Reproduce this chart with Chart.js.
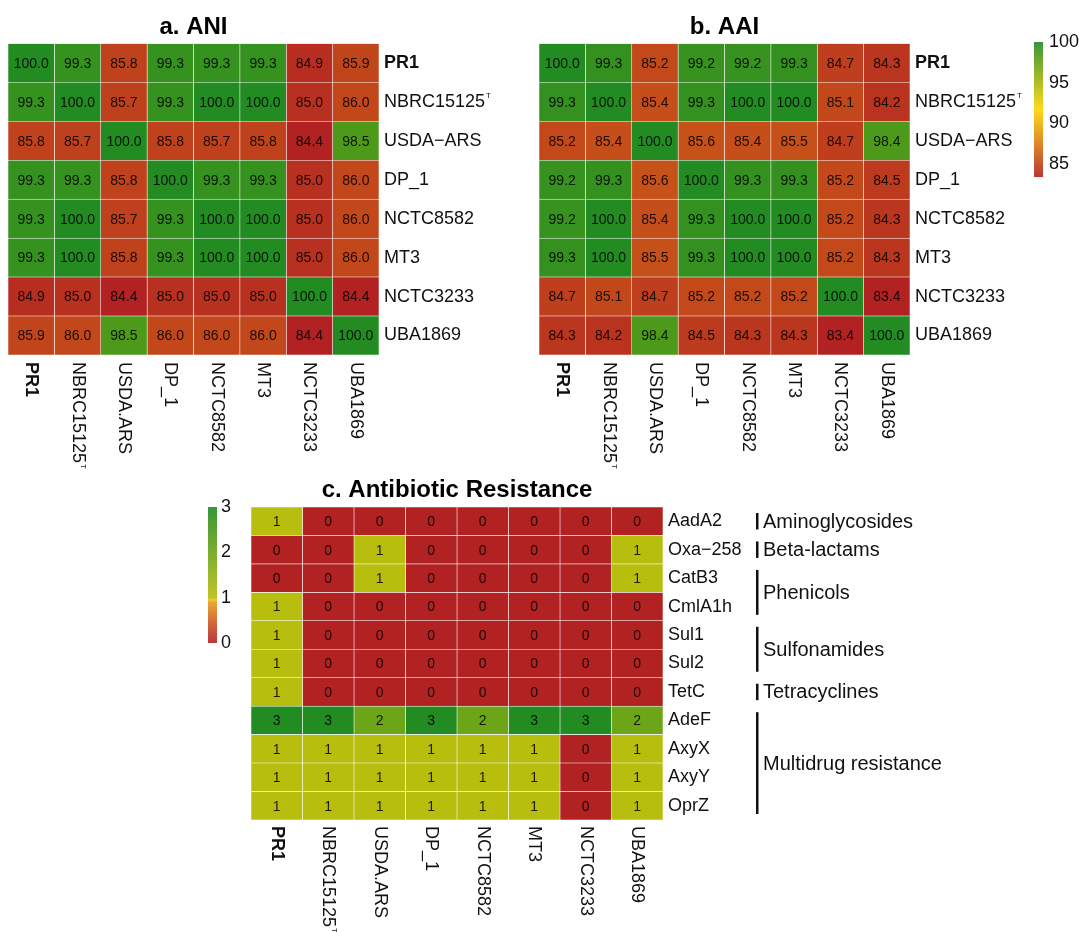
<!DOCTYPE html>
<html>
<head>
<meta charset="utf-8">
<script src="https://cdn.jsdelivr.net/npm/chart.js@4.4.0/dist/chart.umd.min.js"></script>
<style>
  html, body { margin: 0; padding: 0; background: #fff; }
  #wrap { position: relative; width: 1079px; height: 932px; overflow: hidden; background: #fff; }
  canvas { position: absolute; }
</style>
</head>
<body>
<div id="wrap">
  <canvas id="ani" width="540" height="470" style="left:0px;top:0px"></canvas>
  <canvas id="aai" width="549" height="470" style="left:530px;top:0px"></canvas>
  <canvas id="amr" width="884" height="472" style="left:195px;top:460px"></canvas>
</div>
<script>
// ---- data ----
const strainRows = ["PR1", "NBRC15125ᵀ", "USDA−ARS", "DP_1", "NCTC8582", "MT3", "NCTC3233", "UBA1869"];
const strainCols = ["PR1", "NBRC15125ᵀ", "USDA.ARS", "DP_1", "NCTC8582", "MT3", "NCTC3233", "UBA1869"];

const aniValues = [
  [100.0, 99.3, 85.8, 99.3, 99.3, 99.3, 84.9, 85.9],
  [99.3, 100.0, 85.7, 99.3, 100.0, 100.0, 85.0, 86.0],
  [85.8, 85.7, 100.0, 85.8, 85.7, 85.8, 84.4, 98.5],
  [99.3, 99.3, 85.8, 100.0, 99.3, 99.3, 85.0, 86.0],
  [99.3, 100.0, 85.7, 99.3, 100.0, 100.0, 85.0, 86.0],
  [99.3, 100.0, 85.8, 99.3, 100.0, 100.0, 85.0, 86.0],
  [84.9, 85.0, 84.4, 85.0, 85.0, 85.0, 100.0, 84.4],
  [85.9, 86.0, 98.5, 86.0, 86.0, 86.0, 84.4, 100.0]
];

const aaiValues = [
  [100.0, 99.3, 85.2, 99.2, 99.2, 99.3, 84.7, 84.3],
  [99.3, 100.0, 85.4, 99.3, 100.0, 100.0, 85.1, 84.2],
  [85.2, 85.4, 100.0, 85.6, 85.4, 85.5, 84.7, 98.4],
  [99.2, 99.3, 85.6, 100.0, 99.3, 99.3, 85.2, 84.5],
  [99.2, 100.0, 85.4, 99.3, 100.0, 100.0, 85.2, 84.3],
  [99.3, 100.0, 85.5, 99.3, 100.0, 100.0, 85.2, 84.3],
  [84.7, 85.1, 84.7, 85.2, 85.2, 85.2, 100.0, 83.4],
  [84.3, 84.2, 98.4, 84.5, 84.3, 84.3, 83.4, 100.0]
];
const aaiTicks = [100, 95, 90, 85];

const genes = ["AadA2", "Oxa−258", "CatB3", "CmlA1h", "Sul1", "Sul2", "TetC", "AdeF", "AxyX", "AxyY", "OprZ"];
const geneCounts = [
  [1, 0, 0, 0, 0, 0, 0, 0],
  [0, 0, 1, 0, 0, 0, 0, 1],
  [0, 0, 1, 0, 0, 0, 0, 1],
  [1, 0, 0, 0, 0, 0, 0, 0],
  [1, 0, 0, 0, 0, 0, 0, 0],
  [1, 0, 0, 0, 0, 0, 0, 0],
  [1, 0, 0, 0, 0, 0, 0, 0],
  [3, 3, 2, 3, 2, 3, 3, 2],
  [1, 1, 1, 1, 1, 1, 0, 1],
  [1, 1, 1, 1, 1, 1, 0, 1],
  [1, 1, 1, 1, 1, 1, 0, 1]
];
const countTicks = [3, 2, 1, 0];
const drugClasses = ["Aminoglycosides", "Beta-lactams", "Phenicols", "Sulfonamides", "Tetracyclines", "Multidrug resistance"];
const classFirstGene = [0, 1, 2, 4, 6, 7];
const classLastGene = [0, 1, 3, 5, 6, 10];

// ---- colour scales ----
const FONT = '"Liberation Sans", Arial, Helvetica, sans-serif';
const RED = [178, 34, 34], GOLD = [255, 215, 0], GREEN = [34, 139, 34];
const SUP = 'ᵀ';

function rgb(c) { return `rgb(${c[0]},${c[1]},${c[2]})`; }
function ramp(stops, v) {
  if (v <= stops[0][0]) return rgb(stops[0][1]);
  for (let i = 1; i < stops.length; i++) {
    if (v <= stops[i][0]) {
      const t = (v - stops[i - 1][0]) / (stops[i][0] - stops[i - 1][0]);
      const a = stops[i - 1][1], b = stops[i][1];
      return rgb(a.map((x, k) => Math.round(x + (b[k] - x) * t)));
    }
  }
  return rgb(stops[stops.length - 1][1]);
}
function identityScale(values) {
  const flat = values.flat();
  const lo = Math.min(...flat), hi = Math.max(...flat);
  const stops = [[lo, RED], [(lo + hi) / 2, GOLD], [hi, GREEN]];
  return { lo, hi, colour: v => ramp(stops, v) };
}
const countStops = [
  [0, RED], [0.5, [208, 96, 40]], [0.92, [236, 160, 28]], [0.97, [250, 212, 40]],
  [1, [184, 190, 14]], [3, GREEN]
];
const countScale = { lo: 0, hi: 3, colour: v => ramp(countStops, v) };

// label text without the type-strain mark, plus whether it carries one
function splitMark(label) {
  return label.endsWith(SUP) ? [label.slice(0, -1), true] : [label, false];
}

// ---- heatmap built from floating horizontal bars ----
function heatmap(canvasId, cfg) {
  const nCols = cfg.cols.length;
  const datasets = cfg.cols.map((col, c) => ({
    label: col,
    data: cfg.rows.map(() => [c, c + 1]),
    backgroundColor: cfg.rows.map((_, r) => cfg.scale.colour(cfg.values[r][c])),
    borderColor: 'rgba(255,255,255,0.7)',
    borderWidth: 0.6,
    borderSkipped: false,
    grouped: false,
    barPercentage: 1,
    categoryPercentage: 1
  }));

  const cellText = {
    id: 'cellText',
    afterDatasetsDraw(chart) {
      const ctx = chart.ctx;
      ctx.save();
      ctx.font = `${cfg.cellFont}px ${FONT}`;
      ctx.fillStyle = 'rgba(0,0,0,0.85)';
      ctx.textAlign = 'center';
      ctx.textBaseline = 'middle';
      chart.data.datasets.forEach((ds, c) => {
        chart.getDatasetMeta(c).data.forEach((bar, r) => {
          const p = bar.getProps(['x', 'y', 'base'], true);
          ctx.fillText(cfg.format(cfg.values[r][c]), (p.x + p.base) / 2, p.y + 1);
        });
      });
      ctx.restore();
    }
  };

  const columnLabels = {
    id: 'columnLabels',
    afterDraw(chart) {
      const ctx = chart.ctx, xs = chart.scales.x;
      ctx.save();
      ctx.fillStyle = '#111';
      ctx.textAlign = 'left';
      ctx.textBaseline = 'middle';
      cfg.cols.forEach((label, c) => {
        const [text, marked] = splitMark(label);
        ctx.font = `${c === 0 ? 'bold ' : ''}${cfg.labelFont}px ${FONT}`;
        ctx.save();
        ctx.translate(xs.getPixelForValue(c + 0.5), chart.chartArea.bottom + cfg.colGap);
        ctx.rotate(Math.PI / 2);
        ctx.fillText(text, 0, 0);
        if (marked) {
          const w = ctx.measureText(text).width;
          ctx.font = `8px ${FONT}`;
          ctx.fillText('T', w + 1, -6);
        }
        ctx.restore();
      });
      ctx.restore();
    }
  };

  // small raised "T" after type-strain row labels
  const rowMarks = {
    id: 'rowMarks',
    afterDraw(chart) {
      const ctx = chart.ctx, ys = chart.scales.y;
      ctx.save();
      ctx.fillStyle = '#111';
      ctx.textAlign = 'left';
      ctx.textBaseline = 'middle';
      cfg.rows.forEach((label, r) => {
        const [text, marked] = splitMark(label);
        if (!marked) return;
        ctx.font = `${cfg.labelFont}px ${FONT}`;
        const w = ctx.measureText(text).width;
        ctx.font = `8px ${FONT}`;
        ctx.fillText('T', ys.left + 5 + w + 1, ys.getPixelForValue(r) - 6);
      });
      ctx.restore();
    }
  };

  return new Chart(document.getElementById(canvasId), {
    type: 'bar',
    data: { labels: cfg.rows, datasets },
    options: {
      indexAxis: 'y',
      responsive: false,
      animation: false,
      events: [],
      layout: { padding: { left: cfg.left, top: 0, right: 0, bottom: 0 } },
      plugins: {
        legend: { display: false },
        tooltip: { enabled: false },
        title: {
          display: true,
          text: cfg.title,
          fullSize: false,
          color: '#000',
          font: { family: FONT, size: 24, weight: 'bold', lineHeight: 1.2 },
          padding: { top: cfg.titleTop, bottom: cfg.titleBottom }
        }
      },
      scales: {
        x: {
          type: 'linear', min: 0, max: nCols,
          ticks: { display: false },
          grid: { display: false, drawTicks: false },
          border: { display: false },
          afterFit: s => { s.height = cfg.bottomSpace; }
        },
        y: {
          type: 'category', position: 'right', offset: true,
          grid: { display: false, drawTicks: false },
          border: { display: false },
          ticks: {
            padding: 5,
            color: '#111',
            callback: (v, i) => splitMark(cfg.rows[i])[0],
            font: ctx => ({ family: FONT, size: cfg.labelFont, weight: (cfg.boldRow && ctx.index === 0) ? 'bold' : 'normal' })
          },
          afterFit: s => { s.width = cfg.rightSpace; }
        }
      }
    },
    plugins: [cellText, columnLabels, rowMarks, ...(cfg.extra || [])]
  });
}

// vertical colour key
function colourKey(scale, ticks, x, yTop, yBot, labelX) {
  return {
    id: 'colourKey',
    afterDraw(chart) {
      const ctx = chart.ctx;
      ctx.save();
      const grad = ctx.createLinearGradient(0, yBot, 0, yTop);
      const n = 60;
      for (let i = 0; i <= n; i++) {
        const v = scale.lo + (scale.hi - scale.lo) * i / n;
        grad.addColorStop(i / n, scale.colour(v));
      }
      ctx.globalAlpha = 0.9;
      ctx.fillStyle = grad;
      ctx.fillRect(x, yTop, 9, yBot - yTop);
      ctx.globalAlpha = 1;
      ctx.fillStyle = '#111';
      ctx.font = `18px ${FONT}`;
      ctx.textAlign = 'left';
      ctx.textBaseline = 'middle';
      ticks.forEach(v => {
        const y = yBot - (v - scale.lo) / (scale.hi - scale.lo) * (yBot - yTop);
        ctx.fillText(String(v), labelX, y);
      });
      ctx.restore();
    }
  };
}

// drug class brackets beside the gene rows
const classBrackets = {
  id: 'classBrackets',
  afterDraw(chart) {
    const ctx = chart.ctx, ys = chart.scales.y;
    const half = (ys.getPixelForValue(1) - ys.getPixelForValue(0)) / 2;
    ctx.save();
    ctx.fillStyle = '#111';
    ctx.font = `20px ${FONT}`;
    ctx.textAlign = 'left';
    ctx.textBaseline = 'middle';
    drugClasses.forEach((name, i) => {
      const top = ys.getPixelForValue(classFirstGene[i]) - half + 6;
      const bot = ys.getPixelForValue(classLastGene[i]) + half - 6;
      ctx.fillRect(561, top, 2.5, bot - top);
      ctx.fillText(name, 568, (top + bot) / 2 + 1);
    });
    ctx.restore();
  }
};

const aniScale = identityScale(aniValues);
const aaiScale = identityScale(aaiValues);

heatmap('ani', {
  title: 'a. ANI', rows: strainRows, cols: strainCols, values: aniValues, scale: aniScale,
  format: v => v.toFixed(1), cellFont: 14, labelFont: 18, boldRow: true,
  left: 8, rightSpace: 161, bottomSpace: 115, titleTop: 13, titleBottom: 1.6, colGap: 7
});

heatmap('aai', {
  title: 'b. AAI', rows: strainRows, cols: strainCols, values: aaiValues, scale: aaiScale,
  format: v => v.toFixed(1), cellFont: 14, labelFont: 18, boldRow: true,
  left: 9, rightSpace: 169, bottomSpace: 115, titleTop: 13, titleBottom: 1.6, colGap: 7,
  extra: [colourKey(aaiScale, aaiTicks, 504, 42, 177, 519)]
});

heatmap('amr', {
  title: 'c. Antibiotic Resistance', rows: genes, cols: strainCols, values: geneCounts, scale: countScale,
  format: v => String(v), cellFont: 14, labelFont: 18, boldRow: false,
  left: 56, rightSpace: 416, bottomSpace: 112, titleTop: 15.5, titleBottom: 2.7, colGap: 6,
  extra: [colourKey(countScale, countTicks, 13, 47, 183, 26), classBrackets]
});
</script>
</body>
</html>
